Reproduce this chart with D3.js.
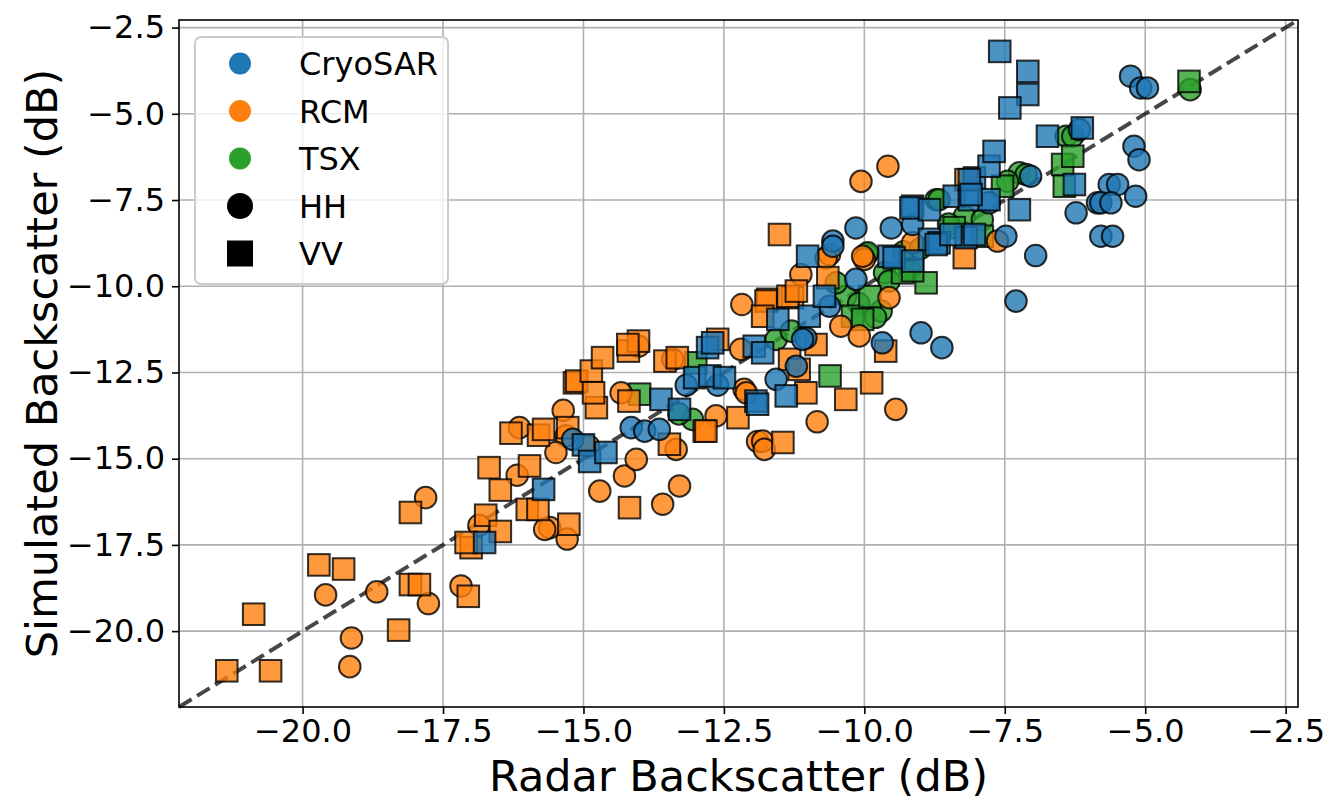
<!DOCTYPE html>
<html>
<head>
<meta charset="utf-8">
<script src="https://cdn.jsdelivr.net/npm/d3@7"></script>
<style>
  body { margin: 0; background: #fff; }
  text { font-family: "DejaVu Sans", sans-serif; fill: #000; }
</style>
</head>
<body>
<svg id="chart" width="1327" height="801"></svg>
<script>
const xTicks = [-20, -17.5, -15, -12.5, -10, -7.5, -5, -2.5];
const yTicks = [-20, -17.5, -15, -12.5, -10, -7.5, -5, -2.5];
const satellites = ['CryoSAR', 'RCM', 'TSX'];
const satColors = ['#1f77b4', '#ff7f0e', '#2ca02c'];
const polarisations = ['HH', 'VV'];

// [radar backscatter dB, simulated backscatter dB]
const cryoHH = [[-15.19,-14.44],[-14.15,-14.1],[-13.91,-14.2],[-13.65,-14.15],[-13.17,-12.87],[-12.61,-12.87],
  [-11.57,-12.7],[-11.21,-12.32],[-11.04,-11.5],[-11.1,-11.54],[-10.62,-10.58],[-10.56,-8.69],[-10.56,-8.84],
  [-10.15,-8.31],[-10.15,-9.8],[-9.52,-8.31],[-9.14,-8.21],[-9.68,-11.64],[-8.99,-11.35],[-8.62,-11.78],
  [-7.78,-7.58],[-7.48,-8.55],[-6.95,-9.11],[-7.3,-10.43],[-7.04,-6.81],[-6.17,-5.46],[-5.64,-7.05],[-5.49,-7.05],
  [-5.85,-7.58],[-6.23,-7.87],[-5.79,-8.55],[-5.58,-8.55],[-5.17,-7.39],[-5.2,-5.94],[-5.11,-6.33],
  [-5.26,-3.91],[-5.08,-4.25],[-4.96,-4.25],[-5.79,-7.58],[-5.61,-7.58]];
const cryoVV = [[-16.76,-17.43],[-15.71,-15.89],[-15.0,-14.6],[-14.89,-15.08],[-14.6,-14.82],[-13.62,-13.28],[-13.29,-13.57],
  [-13.02,-12.65],[-12.75,-12.6],[-12.49,-12.65],[-12.79,-11.78],[-11.96,-11.74],[-11.93,-13.33],[-11.9,-13.42],
  [-11.39,-13.18],[-12.7,-11.64],[-11.81,-11.93],[-11.54,-10.96],[-10.98,-10.87],[-10.71,-10.29],[-11.01,-9.13],
  [-9.56,-9.13],[-9.47,-9.17],[-9.14,-9.27],[-9.14,-7.68],[-8.84,-8.64],[-8.67,-8.74],[-8.19,-8.59],[-8.72,-8.79],
  [-8.46,-8.5],[-8.04,-8.5],[-9.17,-7.73],[-8.84,-7.78],[-8.4,-7.39],[-8.13,-7.49],[-7.78,-7.49],[-7.24,-7.78],
  [-8.04,-6.86],[-7.78,-6.52],[-7.69,-6.09],[-6.74,-5.65],[-6.12,-5.41],[-6.26,-7.05],[-7.59,-3.19],[-7.09,-3.77],
  [-7.09,-4.44],[-7.41,-4.83],[-8.13,-6.91],[-8.1,-7.34]];
const rcmHH = [[-19.59,-18.95],[-19.13,-20.2],[-19.16,-21.03],[-18.68,-18.86],[-17.76,-19.2],[-17.81,-16.13],
  [-17.18,-18.69],[-16.86,-16.93],[-16.18,-15.48],[-16.14,-14.1],[-15.36,-13.6],[-15.31,-14.34],[-15.6,-17.0],
  [-15.69,-17.05],[-15.29,-17.33],[-15.49,-14.82],[-14.91,-14.63],[-14.71,-15.94],[-14.27,-15.5],[-14.06,-15.02],
  [-13.59,-16.32],[-13.29,-15.79],[-13.35,-14.73],[-14.33,-13.09],[-14.02,-11.74],[-13.41,-12.12],[-12.2,-11.83],
  [-12.14,-12.99],[-12.1,-13.09],[-12.64,-13.76],[-11.9,-14.5],[-11.81,-14.49],[-11.78,-14.73],[-10.84,-13.93],
  [-9.44,-13.57],[-12.18,-10.53],[-11.13,-9.66],[-10.62,-9.08],[-10.68,-9.18],[-10.42,-11.16],[-10.09,-11.44],
  [-10.0,-9.22],[-10.03,-9.13],[-9.56,-10.33],[-9.58,-6.52],[-10.06,-6.96],[-9.14,-8.74],[-7.63,-8.69]];
const rcmVV = [[-21.35,-21.15],[-20.57,-21.15],[-20.87,-19.51],[-19.71,-18.08],[-19.27,-18.2],[-18.29,-19.97],
  [-18.08,-18.65],[-17.92,-18.65],[-18.08,-16.56],[-17.05,-18.99],[-17.0,-17.58],[-16.74,-16.64],[-16.48,-17.11],
  [-16.68,-15.26],[-16.48,-15.91],[-16.0,-16.47],[-17.09,-17.43],[-16.29,-14.26],[-15.8,-14.32],[-15.71,-14.15],
  [-15.28,-14.1],[-15.16,-12.8],[-15.12,-12.75],[-14.86,-12.46],[-14.66,-12.07],[-14.2,-11.88],[-14.02,-11.59],
  [-14.21,-11.69],[-13.55,-12.17],[-13.33,-12.07],[-12.61,-11.54],[-14.19,-13.33],[-14.77,-13.52],[-14.82,-13.09],
  [-12.85,-14.2],[-13.47,-14.58],[-14.18,-16.42],[-15.96,-15.21],[-15.81,-16.47],[-15.26,-16.9],[-11.51,-8.5],
  [-10.65,-9.75],[-11.72,-10.38],[-11.28,-10.33],[-11.75,-10.43],[-11.36,-10.29],[-11.21,-10.14],[-11.81,-10.87],
  [-10.86,-11.69],[-11.33,-12.12],[-11.16,-12.41],[-11.04,-13.09],[-10.33,-13.28],[-9.87,-12.8],[-11.45,-14.53],
  [-12.25,-13.81],[-12.82,-14.2],[-9.62,-11.88],[-8.22,-9.17],[-8.19,-6.91]];
const tsxHH = [[-13.06,-13.86],[-13.3,-13.7],[-11.57,-11.54],[-11.3,-11.3],[-9.96,-9.08],[-9.94,-9.03],[-10.33,-10.29],
  [-9.7,-10.72],[-9.8,-10.9],[-8.72,-7.49],[-8.67,-7.49],[-8.22,-7.97],[-7.9,-8.07],[-7.24,-6.71],[-7.12,-6.76],
  [-7.45,-6.96],[-6.41,-5.65],[-6.29,-5.65],[-9.64,-9.61],[-9.56,-9.85],[-4.2,-4.3],[-10.5,-9.9],[-9.3,-9.0],
  [-9.0,-8.9],[-8.5,-8.2],[-10.1,-10.5],[-9.2,-9.5]];
const tsxVV = [[-13.0,-12.22],[-14.0,-13.13],[-10.21,-10.87],[-10.03,-10.96],[-10.61,-12.6],[-9.32,-9.61],[-8.9,-9.9],
  [-9.14,-9.55],[-7.9,-8.55],[-6.47,-6.47],[-6.29,-6.23],[-6.44,-7.1],[-7.54,-7.1],[-4.22,-4.06],[-9.9,-10.3],[-8.4,-8.3]];

// draw order: TSX, RCM, CryoSAR
const series = [
  { sat: 2, pol: 'HH', pts: tsxHH }, { sat: 2, pol: 'VV', pts: tsxVV },
  { sat: 1, pol: 'HH', pts: rcmHH }, { sat: 1, pol: 'VV', pts: rcmVV },
  { sat: 0, pol: 'HH', pts: cryoHH }, { sat: 0, pol: 'VV', pts: cryoVV }
];

const plotLeft = 179, plotRight = 1298, plotTop = 20, plotBottom = 707;
const svg = d3.select('#chart');

const x = d3.scaleLinear().domain([-22.2, -2.28]).range([plotLeft, plotRight]);
const y = d3.scaleLinear().domain([-22.2, -2.28]).range([plotBottom, plotTop]);
const fmt = d3.format('.1f');

// grid
const grid = svg.append('g');
grid.selectAll('.gx').data(xTicks).enter().append('line')
  .attr('x1', d => x(d)).attr('x2', d => x(d)).attr('y1', plotTop).attr('y2', plotBottom)
  .attr('stroke', '#b0b0b0').attr('stroke-width', 1.6);
grid.selectAll('.gy').data(yTicks).enter().append('line')
  .attr('y1', d => y(d)).attr('y2', d => y(d)).attr('x1', plotLeft).attr('x2', plotRight)
  .attr('stroke', '#b0b0b0').attr('stroke-width', 1.6);

// 1:1 line
svg.append('line')
  .attr('x1', x(-22.2)).attr('y1', y(-22.2)).attr('x2', x(-2.28)).attr('y2', y(-2.28))
  .attr('stroke', '#000').attr('stroke-opacity', 0.72)
  .attr('stroke-width', 4).attr('stroke-dasharray', '14.8,6.4');

// points
const r = 10.8;
series.forEach(s => {
  const g = svg.append('g')
    .attr('fill', satColors[s.sat]).attr('fill-opacity', 0.8)
    .attr('stroke', '#000').attr('stroke-opacity', 0.8).attr('stroke-width', 2);
  if (s.pol === 'HH') {
    g.selectAll('circle').data(s.pts).enter().append('circle')
      .attr('cx', d => x(d[0])).attr('cy', d => y(d[1])).attr('r', r);
  } else {
    g.selectAll('rect').data(s.pts).enter().append('rect')
      .attr('x', d => x(d[0]) - r).attr('y', d => y(d[1]) - r)
      .attr('width', 2 * r).attr('height', 2 * r);
  }
});

// frame
svg.append('rect')
  .attr('x', plotLeft).attr('y', plotTop).attr('width', plotRight - plotLeft).attr('height', plotBottom - plotTop)
  .attr('fill', 'none').attr('stroke', '#000').attr('stroke-width', 1.6);

// axes
const xAxis = svg.append('g')
  .attr('transform', `translate(0,${plotBottom})`)
  .call(d3.axisBottom(x).tickValues(xTicks).tickFormat(fmt).tickSize(7).tickPadding(5.5));
const yAxis = svg.append('g')
  .attr('transform', `translate(${plotLeft},0)`)
  .call(d3.axisLeft(y).tickValues(yTicks).tickFormat(fmt).tickSize(7).tickPadding(7));
[xAxis, yAxis].forEach(a => {
  a.select('.domain').remove();
  a.selectAll('.tick line').attr('stroke', '#000').attr('stroke-width', 1.6);
  a.selectAll('.tick text').attr('font-size', 32).attr('font-family', 'DejaVu Sans');
});

svg.append('text')
  .attr('x', (plotLeft + plotRight) / 2).attr('y', 790.5)
  .attr('text-anchor', 'middle').attr('font-size', 43)
  .text('Radar Backscatter (dB)');
svg.append('text')
  .attr('transform', `translate(57,${(plotTop + plotBottom) / 2}) rotate(-90)`)
  .attr('text-anchor', 'middle').attr('font-size', 43)
  .text('Simulated Backscatter (dB)');

// legend
const legend = svg.append('g');
legend.append('rect')
  .attr('x', 195).attr('y', 37).attr('width', 253).attr('height', 247).attr('rx', 6)
  .attr('fill', '#fff').attr('fill-opacity', 0.8)
  .attr('stroke', '#cccccc').attr('stroke-width', 2);
const legendRows = satellites.map((s, i) => ({ label: s, color: satColors[i], shape: 'dot' }))
  .concat(polarisations.map(p => ({ label: p, color: '#000', shape: p === 'HH' ? 'circle' : 'square' })));
const rowY = d3.scaleLinear().domain([0, 4]).range([63.5, 253.5]);
legendRows.forEach((d, i) => {
  const cy = rowY(i);
  if (d.shape === 'dot') {
    legend.append('circle').attr('cx', 240).attr('cy', cy).attr('r', 11).attr('fill', d.color);
  } else if (d.shape === 'circle') {
    legend.append('circle').attr('cx', 240).attr('cy', cy).attr('r', 13).attr('fill', d.color);
  } else {
    legend.append('rect').attr('x', 227).attr('y', cy - 13).attr('width', 26).attr('height', 26).attr('fill', d.color);
  }
  legend.append('text').attr('x', 299).attr('y', cy).attr('dy', '0.36em')
    .attr('font-size', 32).text(d.label);
});
</script>
</body>
</html>
